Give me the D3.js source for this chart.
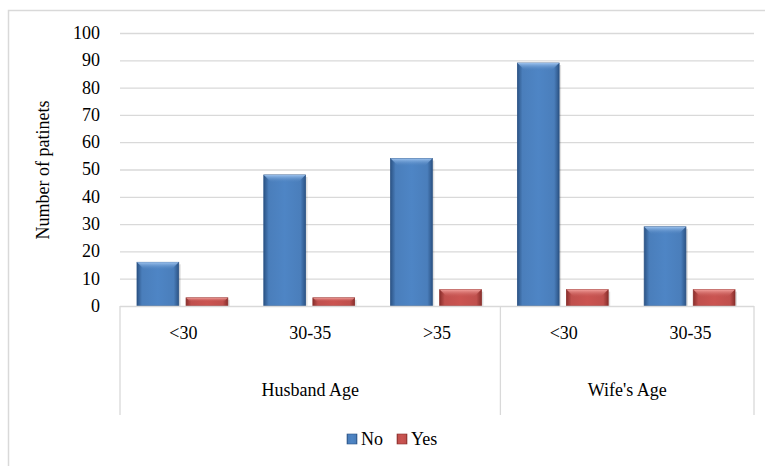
<!DOCTYPE html>
<html>
<head>
<meta charset="utf-8">
<script src="https://cdn.jsdelivr.net/npm/d3@7"></script>
<style>
  body { margin: 0; background: #fff; }
</style>
</head>
<body>
<svg width="765" height="466"></svg>
<script>
// data
var categories = ["<30", "30-35", ">35", "<30", "30-35"];
var groups = ["Husband Age", "Wife's Age"];
var groupSizes = [3, 2];
var series = ["No", "Yes"];
var noValues = [16, 48, 54, 89, 29];
var yesValues = [3, 3, 6, 6, 6];
var yTicks = [0, 10, 20, 30, 40, 50, 60, 70, 80, 90, 100];

var colors = {
  No:  { base: "#4a7ebb", light: "#9cc2ee", dark: "#2c5486" },
  Yes: { base: "#c0504d", light: "#f3a19d", dark: "#8a2f2c" }
};

var svg = d3.select("svg"),
    width = +svg.attr("width"),
    height = +svg.attr("height");

var plotLeft = 120, plotRight = 754, plotTop = 33, plotBottom = 306;
var fontFamily = "'Liberation Serif'";
var fontSize = "18px";

function label(sel) {
  return sel.style("font-family", fontFamily).style("font-size", fontSize).attr("fill", "#000");
}

// outer chart frame (right/bottom run off the picture)
svg.append("rect")
    .attr("x", 8.5).attr("y", 10.5)
    .attr("width", width + 10).attr("height", height + 10)
    .attr("fill", "none").attr("stroke", "#d9d9d9").attr("stroke-width", 1.5);

var x0 = d3.scaleBand()
    .domain(d3.range(categories.length))
    .range([plotLeft, plotRight])
    .padding(0);

var x1 = d3.scaleBand()
    .domain(series)
    .range([17, x0.bandwidth() - 19])
    .paddingInner(0.15);

var y = d3.scaleLinear()
    .domain([0, 100])
    .range([plotBottom, plotTop]);

// gradients for the bevelled bars
var defs = svg.append("defs");
series.forEach(function(s) {
  var c = colors[s];
  var h = defs.append("linearGradient").attr("id", "side-" + s)
      .attr("x1", 0).attr("x2", 1).attr("y1", 0).attr("y2", 0);
  h.append("stop").attr("offset", "0%").attr("stop-color", c.dark);
  h.append("stop").attr("offset", "12%").attr("stop-color", c.base);
  h.append("stop").attr("offset", "50%").attr("stop-color", d3.color(c.base).brighter(0.15));
  h.append("stop").attr("offset", "88%").attr("stop-color", c.base);
  h.append("stop").attr("offset", "100%").attr("stop-color", c.dark);
  var v = defs.append("linearGradient").attr("id", "top-" + s)
      .attr("x1", 0).attr("x2", 0).attr("y1", 0).attr("y2", 1);
  v.append("stop").attr("offset", "0%").attr("stop-color", c.light);
  v.append("stop").attr("offset", "100%").attr("stop-color", c.base).attr("stop-opacity", 0);
});

// gridlines
svg.append("g")
  .selectAll("line")
  .data(yTicks.slice(1))
  .enter().append("line")
    .attr("x1", plotLeft).attr("x2", plotRight)
    .attr("y1", d => y(d) + 0.5).attr("y2", d => y(d) + 0.5)
    .attr("stroke", "#d9d9d9").attr("stroke-width", 1.3);

// y tick labels
svg.append("g")
  .selectAll("text")
  .data(yTicks)
  .enter().append("text")
    .attr("x", 100)
    .attr("y", d => y(d))
    .attr("dy", "0.33em")
    .attr("text-anchor", "end")
    .call(label)
    .text(d => d);

// y axis title
svg.append("text")
    .attr("transform", "translate(49,170) rotate(-90)")
    .attr("text-anchor", "middle")
    .call(label)
    .text("Number of patinets");

// bars
var rows = categories.map(function(c, i) {
  return [{ s: "No", v: noValues[i], i: i }, { s: "Yes", v: yesValues[i], i: i }];
});

var bar = svg.append("g")
  .selectAll("g")
  .data(rows)
  .enter().append("g")
    .attr("transform", (d, i) => "translate(" + x0(i) + ",0)")
  .selectAll("g")
  .data(d => d)
  .enter().append("g");

bar.append("rect")
    .attr("x", d => x1(d.s) + 2)
    .attr("y", d => y(d.v) + 2)
    .attr("width", x1.bandwidth())
    .attr("height", d => plotBottom - y(d.v) - 2)
    .attr("fill", "#000").attr("opacity", 0.12);

bar.append("rect")
    .attr("x", d => x1(d.s))
    .attr("y", d => y(d.v))
    .attr("width", x1.bandwidth())
    .attr("height", d => plotBottom - y(d.v))
    .attr("fill", d => "url(#side-" + d.s + ")")
    .attr("stroke", d => colors[d.s].dark)
    .attr("stroke-width", 0.8);

bar.append("path")
    .attr("d", function(d) {
      var bx = x1(d.s), bw = x1.bandwidth(), by = y(d.v);
      var bh = Math.min(8, (plotBottom - by) / 2);
      return "M" + bx + "," + by + "h" + bw + "l" + (-bh) + "," + bh +
             "h" + (-(bw - 2 * bh)) + "z";
    })
    .attr("fill", d => "url(#top-" + d.s + ")");

// category axis
var axis = svg.append("g").attr("stroke", "#d9d9d9").attr("stroke-width", 1.3);
axis.append("line")
    .attr("x1", plotLeft).attr("x2", plotRight)
    .attr("y1", plotBottom + 0.5).attr("y2", plotBottom + 0.5);

var bounds = [0];
groupSizes.forEach(function(n, i) { bounds.push(bounds[i] + n); });
var boundX = d => d < categories.length ? x0(d) : plotRight;

axis.selectAll("line.div")
  .data(bounds)
  .enter().append("line")
    .attr("class", "div")
    .attr("x1", boundX)
    .attr("x2", boundX)
    .attr("y1", plotBottom).attr("y2", 415);

svg.append("g")
  .selectAll("text")
  .data(categories)
  .enter().append("text")
    .attr("x", (d, i) => x0(i) + x0.bandwidth() / 2)
    .attr("y", 339)
    .attr("text-anchor", "middle")
    .call(label)
    .text(d => d);

svg.append("g")
  .selectAll("text")
  .data(groups)
  .enter().append("text")
    .attr("x", (d, i) => (boundX(bounds[i]) + boundX(bounds[i + 1])) / 2)
    .attr("y", 396)
    .attr("text-anchor", "middle")
    .call(label)
    .text(d => d);

// legend
var legend = svg.append("g")
  .selectAll("g")
  .data(series)
  .enter().append("g")
    .attr("transform", (d, i) => "translate(" + (347 + i * 50) + ",434)");

legend.append("rect")
    .attr("width", 10).attr("height", 10)
    .attr("fill", d => "url(#side-" + d + ")")
    .attr("stroke", d => colors[d].dark).attr("stroke-width", 0.6);

legend.append("text")
    .attr("x", 14).attr("y", 5)
    .attr("dy", "0.35em")
    .call(label)
    .text(d => d);
</script>
</body>
</html>
